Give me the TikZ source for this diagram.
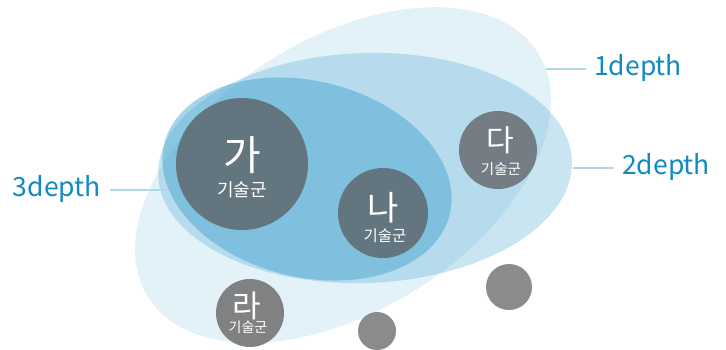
\documentclass[tikz,border=0pt]{standalone}
\usepackage{fontspec}
\setmainfont{Noto Sans CJK KR}
\definecolor{bluebase}{RGB}{60,160,205}
\definecolor{labelblue}{RGB}{18,137,192}
\definecolor{linkblue}{RGB}{176,216,232}
\definecolor{slateA}{RGB}{99,118,128}
\definecolor{slateB}{RGB}{115,125,131}
\definecolor{grayC}{RGB}{128,129,131}
\definecolor{grayD}{RGB}{138,139,141}
\tikzset{
  zone/.style={fill=bluebase, fill opacity=#1},
  group/.style={circle, fill=#1, inner sep=0pt},
  bigchar/.style={text=white, font=\fontsize{#1}{#1}\selectfont, inner sep=0pt},
  subtxt/.style={text=white, font=\fontsize{#1}{#1}\selectfont, inner sep=0pt},
  depthlabel/.style={text=labelblue, font=\fontsize{26.5}{26.5}\selectfont, inner sep=0pt},
  link/.style={draw=linkblue, line width=2.5pt},
}
\begin{document}
\begin{tikzpicture}[x=1pt,y=-1pt]
\useasboundingbox (0,0) rectangle (726,349);
% depth zones
\fill[zone=0.14, rotate around={32:(343,175)}] (343,175) ellipse [x radius=230pt, y radius=136pt];
\fill[zone=0.28, rotate around={2:(365,168)}] (365,168) ellipse [x radius=207pt, y radius=115pt];
\fill[zone=0.45, rotate around={-14:(307,179)}] (307,179) ellipse [x radius=147pt, y radius=98pt];
% labels and connectors
\node[depthlabel, anchor=west] (l1) at (594,68) {1depth};
\node[depthlabel, anchor=west] (l2) at (622,167) {2depth};
\node[depthlabel, anchor=east] (l3) at (101,189) {3depth};
\coordinate (e1) at (546,69);
\coordinate (e2) at (573,168);
\coordinate (e3) at (168,190);
\draw[link] (e1) -- ([xshift=-8pt]l1.west |- e1);
\draw[link] (e2) -- ([xshift=-8pt]l2.west |- e2);
\draw[link] ([xshift=9pt]l3.east |- e3) -- (e3);
% technology groups
\node[group=slateA, minimum size=132pt] (ga) at (242,164) {};
\node[group=slateA, minimum size=90pt] (na) at (383,213) {};
\node[group=slateB, minimum size=78pt] (da) at (498,150) {};
\node[group=grayC, minimum size=68pt] (ra) at (250,313) {};
\node[group=grayD, minimum size=46pt] (s1) at (509,287) {};
\node[group=grayD, minimum size=38pt] (s2) at (377,331) {};
\node[bigchar=41] (gat) at ([yshift=9pt]ga.center) {가};
\node[subtxt=18] (gas) at ([yshift=-26pt]ga.center) {기술군};
\node[bigchar=34] (nat) at ([yshift=5pt]na.center) {나};
\node[subtxt=15.5] (nas) at ([xshift=2pt,yshift=-23pt]na.center) {기술군};
\node[bigchar=30] (dat) at ([xshift=2pt,yshift=10pt]da.center) {다};
\node[subtxt=14.5] (das) at ([xshift=3pt,yshift=-19pt]da.center) {기술군};
\node[bigchar=31] (rat) at ([xshift=-3pt,yshift=7pt]ra.center) {라};
\node[subtxt=14] (ras) at ([xshift=-2pt,yshift=-14pt]ra.center) {기술군};
\end{tikzpicture}
\end{document}
